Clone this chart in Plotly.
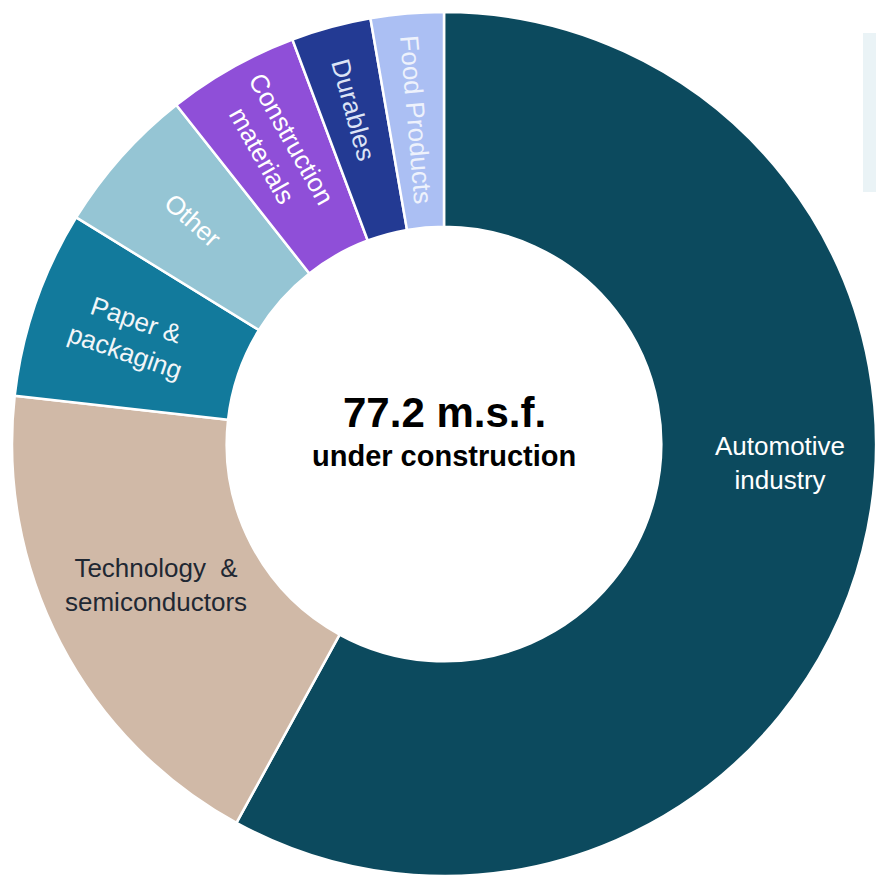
import plotly.graph_objects as go

categories = ["Automotive industry", "Technology & semiconductors", "Paper & packaging",
              "Other", "Construction materials", "Durables", "Food Products"]
values_msf = [44.7, 14.5, 5.4, 4.3, 3.8, 2.3, 2.1]
slice_labels_radial = ["", "", "Paper &<br>packaging", "Other", "Construction<br>materials",
                       "Durables", "Food Products"]
big_labels = ["Automotive<br>industry", "Technology  &<br>semiconductors"]
colors = ["#0c4a5e", "#d0b9a7", "#127a9c", "#95c5d4", "#8f4fd8", "#233a93", "#abbff3"]
radial_text_colors = ["#ffffff", "#ffffff", "#f2f6f8", "#ffffff", "#ffffff", "#dde4f6", "#eef2fc"]
big_label_colors = ["#ffffff", "#1f2833"]
total_label = "77.2 m.s.f."
sub_label = "under construction"

FONT = "Liberation Sans, Arial, sans-serif"
W, H = 876, 879
dom = dict(x=[12 / W, 1.0], y=[1 / H, 1 - 10 / H])

fig = go.Figure()
fig.add_trace(go.Pie(
    labels=categories, values=values_msf, sort=False, direction="clockwise", rotation=0,
    hole=0.503, domain=dom,
    marker=dict(colors=colors, line=dict(color="white", width=2.5)),
    text=slice_labels_radial, textinfo="text", textposition="inside",
    insidetextorientation="radial",
    textfont=dict(family=FONT, size=26, color=radial_text_colors),
    hoverinfo="label+value", showlegend=False,
))

# horizontal labels of the two large slices
for txt, col, (px, py) in zip(big_labels, big_label_colors, [(780, 463), (156, 585)]):
    fig.add_annotation(x=px / W, y=1 - py / H, xref="paper", yref="paper",
                       xanchor="center", yanchor="middle",
                       text=txt, showarrow=False,
                       font=dict(family=FONT, size=26, color=col))

fig.add_annotation(x=(12 + 432) / W, y=1 - 412 / H, xref="paper", yref="paper",
                   xanchor="center", yanchor="middle",
                   text=f"<b>{total_label}</b>", showarrow=False,
                   font=dict(family=FONT, size=42, color="#000000"))
fig.add_annotation(x=(12 + 432) / W, y=1 - 456 / H, xref="paper", yref="paper",
                   xanchor="center", yanchor="middle",
                   text=f"<b>{sub_label}</b>", showarrow=False,
                   font=dict(family=FONT, size=29, color="#000000"))

# partially visible legend panel at the right edge
fig.add_shape(type="rect", xref="paper", yref="paper",
              x0=863 / W, x1=1.0, y0=1 - 192 / H, y1=1 - 33 / H,
              fillcolor="#eaf3f6", line=dict(width=0), layer="below")

fig.update_layout(
    width=W, height=H, margin=dict(l=0, r=0, t=0, b=0),
    paper_bgcolor="white", plot_bgcolor="white",
    uniformtext=dict(minsize=26, mode="show"),
)
fig.write_html("out.html")
